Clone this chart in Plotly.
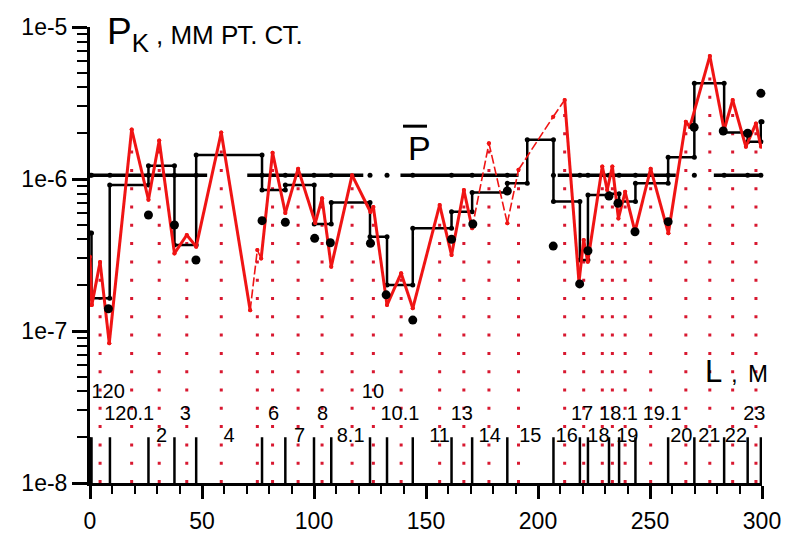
import plotly.graph_objects as go

# ---- measured pressure profile along the line (L, m ; P, mm Hg) ----
red_x = [0, 0.8, 4.5, 8.6, 18.6, 26.1, 30.9, 37.7, 43.2, 47.4, 58.6, 71.5, 74.7,
         76.4, 81.5, 87.2, 92.9, 100.6, 103.6, 107.7, 117.0, 125.2, 126.5, 132.6,
         138.9, 144.1, 156.1, 161.4, 166.9, 170.6, 178.1, 186.3, 191.3, 206.8,
         211.9, 218.3, 220.4, 222.2, 228.7, 230.9, 233.2, 235.9, 238.9, 243.3,
         250.3, 258.2, 266.0, 267.8, 276.7, 283.1, 286.9, 292.8, 297.3, 299.5]
red_p = [3.08e-7, 1.48e-7, 2.84e-7, 8.3e-8, 2.12e-6, 7.3e-7, 1.79e-6, 3.24e-7,
         4.28e-7, 3.59e-7, 2.02e-6, 1.37e-7, 3.41e-7, 3.0e-7, 1.49e-6, 5.97e-7,
         1.17e-6, 5.14e-7, 7.46e-7, 2.65e-7, 1.06e-6, 6.07e-7, 6.55e-7, 1.48e-7,
         2.40e-7, 1.41e-7, 6.75e-7, 3.16e-7, 8.47e-7, 4.74e-7, 1.72e-6, 5.12e-7,
         1.15e-6, 2.57e-6, 3.31e-6, 2.10e-7, 3.97e-7, 2.85e-7, 1.21e-6, 8.47e-7,
         1.21e-6, 5.5e-7, 8.24e-7, 4.5e-7, 1.17e-6, 4.40e-7, 2.38e-6, 2.2e-6,
         6.44e-6, 2.10e-6, 3.31e-6, 1.63e-6, 2.32e-6, 1.63e-6]
# stretches of the profile that are only bridged (thin dashed)
red_thin_spans = [(71.5, 76.4), (170.6, 211.9)]
# points with vertical dotted drop lines
drop_at = [4.5, 18.6, 30.9, 43.2, 58.6, 74.7, 81.5, 92.9, 103.6, 117.0, 126.5,
           138.9, 156.1, 166.9, 178.1, 191.3, 211.9, 220.4, 228.7, 233.2, 238.9,
           250.3, 266.0, 276.7, 286.9, 297.3]

# ---- sections of the line ----
seg_edges = [0, 0.67, 8.9, 26.1, 37.7, 47.4, 76.8, 87.2, 100.0, 107.7, 125.0,
             132.6, 144.1, 161.4, 170.6, 186.3, 206.9, 218.7, 222.3, 231.7, 236.2,
             243.5, 258.1, 269.8, 283.1, 293.6, 299.5]
seg_labels = ["", "120", "120.1", "2", "3", "4", "6", "7", "8", "8.1", "10", "10.1",
              "11", "13", "14", "15", "16", "17", "18", "18.1", "19", "19.1", "20",
              "21", "22", "23"]
seg_label_row = [0, 0, 1, 2, 1, 2, 1, 2, 1, 2, 0, 1, 2, 1, 2, 2, 2, 1, 2, 1, 2, 1,
                 2, 2, 2, 1]
label_row_p = [3.9e-8, 2.8e-8, 2.0e-8]
# names written off-centre in crowded places (shift along L, m)
label_shift = {"10": -2.5, "11": 3.3, "17": -0.8, "18.1": 2.0, "19.1": 4.6}

# ---- section-averaged pressure (step curve) ----
step_edges = [0, 0.67, 8.8, 26.1, 37.7, 47.4, 76.8, 87.2, 100.1, 107.7, 125.0,
              132.6, 144.1, 161.4, 170.6, 186.3, 195.2, 206.9, 218.7, 222.3, 231.7,
              236.2, 243.5, 258.1, 269.8, 283.1, 293.6, 299.5, 300.0]
step_p = [4.42e-7, 1.64e-7, 9.14e-7, 1.22e-6, 3.68e-7, 1.44e-6, 8.47e-7, 9.14e-7,
          5.06e-7, 7.0e-7, 4.17e-7, 2.01e-7, 4.74e-7, 6.1e-7, 8.15e-7, 9.37e-7,
          1.81e-6, 7.1e-7, 2.93e-7, 7.85e-7, 8.0e-7, 7.1e-7, 9.37e-7, 1.39e-6,
          4.27e-6, 2.02e-6, 1.76e-6, 2.38e-6]

# ---- pressure at section junctions ----
node_x = [8.2, 26.1, 37.7, 47.3, 76.8, 87.2, 100.3, 107.3, 125.2, 132.2, 144.1,
          161.4, 170.9, 186.3, 206.8, 218.6, 222.3, 231.7, 235.7, 243.3, 258.1,
          269.7, 282.7, 293.6, 299.5]
node_p = [1.40e-7, 5.8e-7, 4.98e-7, 2.93e-7, 5.32e-7, 5.19e-7, 4.07e-7, 3.81e-7,
          3.78e-7, 1.73e-7, 1.18e-7, 4.01e-7, 5.06e-7, 8.34e-7, 3.62e-7, 2.04e-7,
          3.37e-7, 7.73e-7, 6.92e-7, 4.5e-7, 5.24e-7, 2.19e-6, 2.07e-6, 2.0e-6,
          3.66e-6]

# ---- mean pressure over the whole line ----
p_mean = 1.06e-6
p_mean_spans = [(0, 52.3), (70.2, 122.0), (138.6, 191.3), (208.8, 261.5), (278.5, 300)]

x_ticks = [0, 50, 100, 150, 200, 250, 300]
y_ticks = [1e-8, 1e-7, 1e-6, 1e-5]
y_ticktext = ["1e-8", "1e-7", "1e-6", "1e-5"]

P_LOW = 1e-8
MARK_TOP = 2e-8
FONT = "Liberation Sans, Arial, sans-serif"
RED = "#f01414"
DOT_RED = "#d81830"

fig = go.Figure()

# dotted drop lines from the profile peaks down to the axis
for xv in drop_at:
    pv = red_p[red_x.index(xv)]
    fig.add_trace(go.Scatter(
        x=[xv, xv], y=[P_LOW, pv], mode="lines",
        line=dict(color=DOT_RED, width=3, dash="3px,15.3px"),
        hoverinfo="skip", showlegend=False))

# section boundary markers at the bottom
bx, by = [], []
for e in seg_edges:
    bx += [e, e, None]
    by += [P_LOW, MARK_TOP, None]
fig.add_trace(go.Scatter(x=bx, y=by, mode="lines",
                         line=dict(color="black", width=2.5),
                         hoverinfo="skip", showlegend=False))

# section names
lab_x, lab_y, lab_t, lab_pos = [], [], [], []
for i, name in enumerate(seg_labels):
    if not name:
        continue
    left, right = seg_edges[i], seg_edges[i + 1]
    centre = 0.5 * (left + right)
    if centre < 10:
        lab_x.append(left)
        lab_pos.append("middle right")
    else:
        lab_x.append(centre + label_shift.get(name, 0.0))
        lab_pos.append("middle center")
    lab_y.append(label_row_p[seg_label_row[i]])
    lab_t.append(name)
fig.add_trace(go.Scatter(x=lab_x, y=lab_y, text=lab_t, mode="text",
                         textposition=lab_pos,
                         textfont=dict(family=FONT, size=20, color="black"),
                         hoverinfo="skip", showlegend=False, cliponaxis=False))

# mean-pressure line
mx, my = [], []
for a, b in p_mean_spans:
    mx += [a, b, None]
    my += [p_mean, p_mean, None]
fig.add_trace(go.Scatter(x=mx, y=my, mode="lines",
                         line=dict(color="black", width=3.5),
                         hoverinfo="skip", showlegend=False))
fig.add_trace(go.Scatter(x=seg_edges, y=[p_mean] * len(seg_edges), mode="markers",
                         marker=dict(color="black", size=5),
                         hoverinfo="skip", showlegend=False, cliponaxis=False))

# section-averaged step curve
sx, sy = [], []
for i, pv in enumerate(step_p):
    sx += [step_edges[i], step_edges[i + 1]]
    sy += [pv, pv]
fig.add_trace(go.Scatter(x=sx, y=sy, mode="lines+markers",
                         line=dict(color="black", width=2.5),
                         marker=dict(color="black", size=5),
                         hoverinfo="skip", showlegend=False, cliponaxis=False))


def in_thin(a, b):
    return any(lo <= a and b <= hi for lo, hi in red_thin_spans)


# measured profile: solid parts and thin bridged parts
solid_x, solid_y, thin_x, thin_y = [], [], [], []
for i in range(len(red_x) - 1):
    a, b = red_x[i], red_x[i + 1]
    if in_thin(a, b):
        thin_x += [a, b, None]
        thin_y += [red_p[i], red_p[i + 1], None]
    else:
        solid_x += [a, b, None]
        solid_y += [red_p[i], red_p[i + 1], None]
fig.add_trace(go.Scatter(x=thin_x, y=thin_y, mode="lines+markers",
                         line=dict(color=RED, width=1.6, dash="9px,3px"),
                         marker=dict(color=RED, size=4),
                         hoverinfo="skip", showlegend=False))
fig.add_trace(go.Scatter(x=solid_x, y=solid_y, mode="lines+markers",
                         line=dict(color=RED, width=3),
                         marker=dict(color=RED, size=4),
                         hoverinfo="skip", showlegend=False))

# junction pressures
fig.add_trace(go.Scatter(x=node_x, y=node_p, mode="markers",
                         marker=dict(color="black", size=9),
                         hoverinfo="skip", showlegend=False, cliponaxis=False))

annotations = [
    dict(text="P<sub>K</sub>", x=0.0223, y=0.985, font=dict(size=37)),
    dict(text=", ММ РТ. СТ.", x=0.095, y=0.9825, font=dict(size=26)),
    dict(text="P", x=0.4702, y=0.7357, font=dict(size=34)),
    dict(text="L", x=0.912, y=0.2456, font=dict(size=31)),
    dict(text=",", x=0.9505, y=0.2401, font=dict(size=24)),
    dict(text="М", x=0.9765, y=0.2401, font=dict(size=24)),
]
for a in annotations:
    a.update(xref="paper", yref="paper", xanchor="left", yanchor="middle",
             showarrow=False)
    a["font"].update(family=FONT, color="black")

fig.update_layout(
    width=785, height=537,
    margin=dict(l=90, r=23, t=27, b=54, autoexpand=False),
    paper_bgcolor="white", plot_bgcolor="white",
    annotations=annotations,
    shapes=[dict(type="line", xref="paper", yref="paper",
                 x0=0.4658, x1=0.5015, y0=0.7825, y1=0.7825,
                 line=dict(color="black", width=3))],
    xaxis=dict(range=[0, 300], tickmode="array", tickvals=x_ticks,
               ticks="outside", ticklen=13, tickwidth=2.5, tickcolor="black",
               ticklabelstandoff=2, automargin=False,
               showline=True, linewidth=3, linecolor="black",
               showgrid=False, zeroline=False,
               tickfont=dict(family=FONT, size=23, color="black"),
               minor=dict(tick0=0, dtick=10, ticks="outside", ticklen=8,
                          tickwidth=2, tickcolor="black", showgrid=False)),
    yaxis=dict(type="log", range=[-8, -5], tickmode="array", tickvals=y_ticks,
               ticktext=y_ticktext, ticks="outside", ticklen=15, tickwidth=2.5,
               automargin=False,
               tickcolor="black", showline=True, linewidth=3, linecolor="black",
               showgrid=False, zeroline=False,
               tickfont=dict(family=FONT, size=23, color="black"),
               minor=dict(tickmode="array",
                          tickvals=[k * 10.0 ** e for e in (-8, -7, -6)
                                    for k in range(2, 10)],
                          ticks="outside", ticklen=10, tickwidth=2,
                          tickcolor="black", showgrid=False)),
)

fig.write_html("out.html")
